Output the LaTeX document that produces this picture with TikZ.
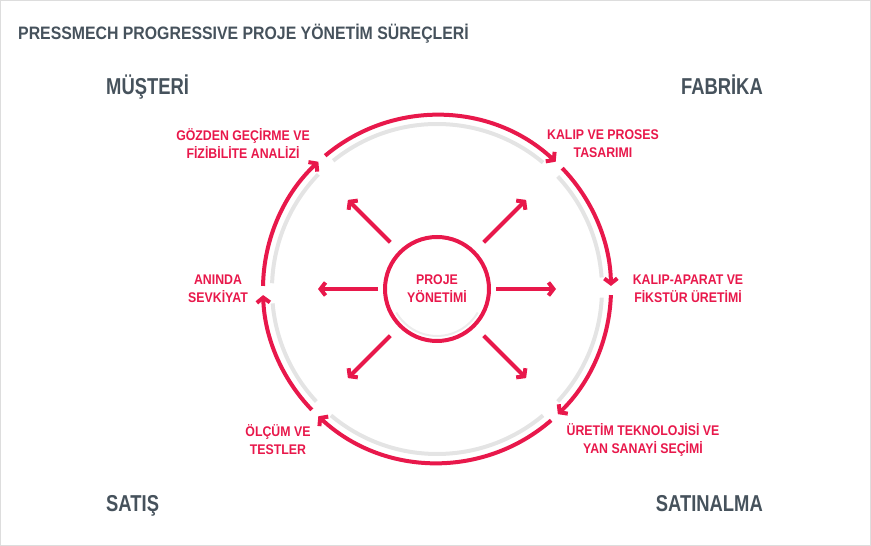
\documentclass[tikz,border=0pt]{standalone}
\usepackage{fontspec}
\setmainfont{Liberation Sans}[FakeStretch=0.8]
\newfontfamily\widefont{Liberation Sans}[FakeStretch=0.88]
\usepackage{tikz}
\usetikzlibrary{positioning,arrows.meta}

\definecolor{pmred}{HTML}{E8184B}
\definecolor{pmslate}{HTML}{46525C}
\definecolor{pmring}{HTML}{E4E4E4}
\definecolor{pmframe}{HTML}{DDDDDD}

\begin{document}
\begin{tikzpicture}
    [x=1pt,y=1pt,
     corner/.style={text=pmslate,font=\fontsize{23}{25}\selectfont\bfseries,inner sep=0pt},
     phase/.style={text=pmred,font=\widefont\fontsize{14}{18}\selectfont\bfseries,align=center,inner sep=0pt},
     ring/.style={draw=pmred,line width=4pt,-{Straight Barb[length=5pt,width=13pt]}},
     shade/.style={draw=pmring,line width=4pt},
     ray/.style={draw=pmred,line width=4pt,-{Straight Barb[length=5pt,width=13pt]}}]

    % frame and bounding box
    \useasboundingbox (0,0) rectangle (871,546);
    \draw[pmframe,line width=1pt] (0.5,0.5) rectangle (870.5,545.5);

    \node[anchor=base west,text=pmslate,inner sep=0pt,font=\widefont\fontsize{18}{20}\selectfont\bfseries]
      (title) at (18,506) {PRESSMECH PROGRESSIVE PROJE YÖNETİM SÜREÇLERİ};

    \node[corner,anchor=base west] (musteri) at (106,451) {MÜŞTERİ};
    \node[corner,anchor=base east] (fabrika) at (763,451) {FABRİKA};
    \node[corner,anchor=base west] (satis) at (106,34) {SATIŞ};
    \node[corner,anchor=base east] (satinalma) at (763,34) {SATINALMA};

    % centre
    \coordinate (c) at (437,257);
    \draw[pmring!70,line width=2pt] (c) ++(210:47) arc[start angle=210,end angle=330,radius=47];
    \node[circle,draw=pmred,line width=4pt,minimum size=104pt,inner sep=0pt,
          phase] (proje) at (c) {PROJE\\YÖNETİMİ};

    % phases round the ring
    \node[phase] (gozden) at (243,402) {GÖZDEN GEÇİRME VE\\FİZİBİLİTE ANALİZİ};
    \node[phase] (kalip) at (603,402) {KALIP VE PROSES\\TASARIMI};
    \node[phase] (aparat) at (688,257) {KALIP-APARAT VE\\FİKSTÜR ÜRETİMİ};
    \node[phase] (uretim) at (643,106) {ÜRETİM TEKNOLOJİSİ VE\\YAN SANAYİ SEÇİMİ};
    \node[phase] (olcum) at (278,106) {ÖLÇÜM VE\\TESTLER};
    \node[phase] (aninda) at (218,257) {ANINDA\\SEVKİYAT};

    % ring points
    \path (c) ++(179:174) coordinate (s1);
    \path (c) ++(130:174) coordinate (s2);
    \path (c) ++(44:174) coordinate (s3);
    \path (c) ++(-2:174) coordinate (s4);
    \path (c) ++(-49:174) coordinate (s5);
    \path (c) ++(-136:174) coordinate (s6);
    \path (c) ++(178:165) coordinate (g1);
    \path (c) ++(129:165) coordinate (g2);
    \path (c) ++(43:165) coordinate (g3);
    \path (c) ++(-3:165) coordinate (g4);
    \path (c) ++(-50:165) coordinate (g5);
    \path (c) ++(-137:165) coordinate (g6);

    % grey ring
    \draw[shade] (g1) arc[start angle=178,end angle=136,radius=165];
    \draw[shade] (g2) arc[start angle=129,end angle=50,radius=165];
    \draw[shade] (g3) arc[start angle=43,end angle=4,radius=165];
    \draw[shade] (g4) arc[start angle=-3,end angle=-43,radius=165];
    \draw[shade] (g5) arc[start angle=-50,end angle=-130,radius=165];
    \draw[shade] (g6) arc[start angle=-137,end angle=-175,radius=165];

    % red ring
    \draw[ring] (s1) arc[start angle=179,end angle=133,radius=174];
    \draw[ring] (s2) arc[start angle=130,end angle=47,radius=174];
    \draw[ring] (s3) arc[start angle=44,end angle=1,radius=174];
    \draw[ring] (s4) arc[start angle=-2,end angle=-46,radius=174];
    \draw[ring] (s5) arc[start angle=-49,end angle=-133,radius=174];
    \draw[ring] (s6) arc[start angle=-136,end angle=-178,radius=174];

    % rays
    \path (c) ++(135:126) coordinate (t1);
    \path (c) ++(45:126) coordinate (t2);
    \path (c) ++(0:119) coordinate (t3);
    \path (c) ++(-45:126) coordinate (t4);
    \path (c) ++(-135:126) coordinate (t5);
    \path (c) ++(180:119) coordinate (t6);
    \draw[ray,shorten <=12pt] (proje.135) -- (t1);
    \draw[ray,shorten <=12pt] (proje.45) -- (t2);
    \draw[ray,shorten <=5pt] (proje.0) -- (t3);
    \draw[ray,shorten <=12pt] (proje.-45) -- (t4);
    \draw[ray,shorten <=12pt] (proje.-135) -- (t5);
    \draw[ray,shorten <=5pt] (proje.180) -- (t6);
\end{tikzpicture}
\end{document}
